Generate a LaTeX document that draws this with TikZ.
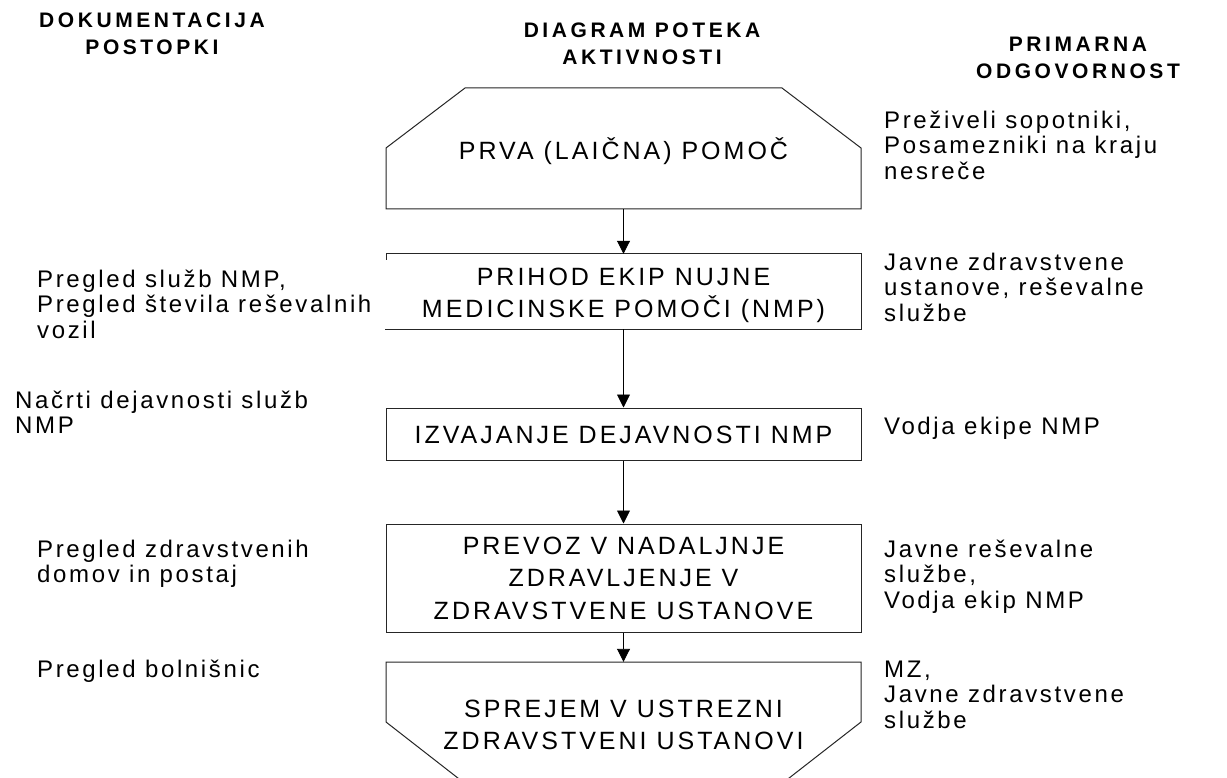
\documentclass[tikz,border=0pt]{standalone}
\usepackage{fontspec}
\setmainfont{Liberation Sans}
\newfontfamily\sidefont[LetterSpace=11]{Liberation Sans}
\newfontfamily\boxfont[LetterSpace=12]{Liberation Sans}
\newfontfamily\headfont[LetterSpace=17]{Liberation Sans}
\usetikzlibrary{arrows.meta}
\newcommand{\firstln}{\rule{0pt}{1em}}
\tikzset{
  side/.style={anchor=north west, inner sep=0pt, align=left,
    font=\fontsize{24}{25.5}\selectfont\sidefont},
  boxtxt/.style={anchor=north, inner sep=0pt, align=center,
    font=\fontsize{25}{32.5}\selectfont\boxfont},
  head/.style={anchor=north, inner sep=0pt, align=center,
    font=\fontsize{21}{27}\selectfont\headfont\bfseries},
  frame/.style={inner sep=0pt, minimum width=475pt},
  outline/.style={line width=1pt, draw=black!85},
  arr/.style={-{Triangle[width=13pt,length=13pt]}, line width=0.9pt},
}
\begin{document}
\begin{tikzpicture}[x=1pt,y=-1pt]
\useasboundingbox (0,0) rectangle (1227,778);
\clip (0,0) rectangle (1227,778);
\fill[white] (0,0) rectangle (1227,778);

% headers
\node[head] (h1) at (152,6.5) {\firstln DOKUMENTACIJA\\POSTOPKI};
\node[head] (h2) at (642,16.5) {\firstln DIAGRAM POTEKA\\AKTIVNOSTI};
\node[head] (h3) at (1078,30.5) {\firstln PRIMARNA\\ODGOVORNOST};

% frames
\node[frame, minimum height=121pt] (b1) at (623.5,148.5) {};
\draw[outline] (386,209) -- (861,209) -- (861,148) -- (782,88) -- (465,88) -- (386,148) -- cycle;

\node[frame, minimum height=75pt] (b2) at (623.5,291.5) {};
\draw[outline] (386,260) |- (861,254) |- (385,329);

\node[frame, minimum height=52pt, outline, draw] (b3) at (623.5,434) {};
\node[frame, minimum height=108pt, outline, draw] (b4) at (623.5,578) {};

\node[frame, minimum height=120pt] (b5) at (623.5,722) {};
\draw[outline] (386,662) -- (861,662) -- (861,722) -- (784,782) -- (463,782) -- (386,722) -- cycle;

% box texts
\node[boxtxt] (t1) at (623.5,134) {\firstln PRVA (LAIČNA) POMOČ};
\node[boxtxt] (t2) at (623.5,260) {\firstln PRIHOD EKIP NUJNE\\MEDICINSKE POMOČI (NMP)};
\node[boxtxt] (t3) at (623.5,418) {\firstln IZVAJANJE DEJAVNOSTI NMP};
\node[boxtxt] (t4) at (623.5,529) {\firstln PREVOZ V NADALJNJE\\ZDRAVLJENJE V\\ZDRAVSTVENE USTANOVE};
\node[boxtxt] (t5) at (623.5,692) {\firstln SPREJEM V USTREZNI\\ZDRAVSTVENI USTANOVI};

% arrows
\draw[arr] (b1.south) -- (b2.north);
\draw[arr] (b2.south) -- (b3.north);
\draw[arr] (b3.south) -- (b4.north);
\draw[arr] (b4.south) -- (b5.north);

% left column
\node[side] (l1) at (37,263) {\firstln Pregled služb NMP,\\Pregled števila reševalnih\\vozil};
\node[side] (l2) at (15,384) {\firstln Načrti dejavnosti služb\\NMP};
\node[side] (l3) at (37,533) {\firstln Pregled zdravstvenih\\domov in postaj};
\node[side] (l4) at (37,653) {\firstln Pregled bolnišnic};

% right column
\node[side] (r1) at (884,104) {\firstln Preživeli sopotniki,\\Posamezniki na kraju\\nesreče};
\node[side] (r2) at (884,246) {\firstln Javne zdravstvene\\ustanove, reševalne\\službe};
\node[side] (r3) at (884,410) {\firstln Vodja ekipe NMP};
\node[side] (r4) at (884,533) {\firstln Javne reševalne\\službe,\\Vodja ekip NMP};
\node[side] (r5) at (884,653) {\firstln MZ,\\Javne zdravstvene\\službe};
\end{tikzpicture}
\end{document}
